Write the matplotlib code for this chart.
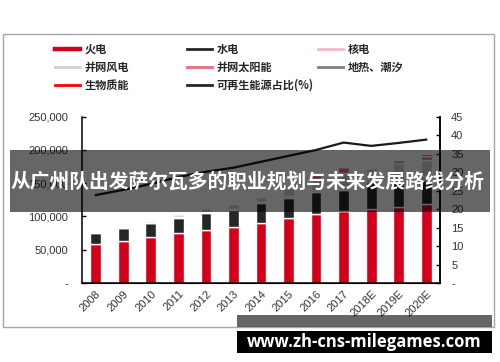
import matplotlib
matplotlib.use("Agg")
import matplotlib.pyplot as plt
from matplotlib.lines import Line2D
from matplotlib.patches import Rectangle
from matplotlib.font_manager import FontProperties
import numpy as np

years = ['2008', '2009', '2010', '2011', '2012', '2013', '2014', '2015', '2016', '2017', '2018E', '2019E', '2020E']
thermal = [58000, 63000, 68500, 74500, 79500, 83500, 89500, 97000, 103500, 108500, 111500, 115000, 119500]
hydro = [17400, 19000, 21000, 23000, 25500, 26000, 30500, 30500, 33500, 31000, 40000, 35000, 35000]
nuclear = [900, 900, 1100, 1250, 1250, 1450, 2000, 2700, 3350, 3600, 4500, 5000, 6000]
wind = [850, 1750, 2950, 4600, 6100, 7650, 7000, 13000, 14750, 22400, 17500, 25500, 24000]
solar = [0, 0, 50, 200, 350, 1600, 2500, 4200, 7600, 9000, 1000, 5000, 7000]
geothermal = [2.4, 2.4, 2.4, 2.4, 2.8, 2.8, 2.8, 2.7, 2.7, 2.7, 3, 3, 5]
biomass = [300, 400, 550, 700, 800, 850, 950, 1000, 1200, 1000, 500, 1000, 2000]
renew_share = [23.8, 25.2, 26.8, 28.7, 30.1, 31.2, 32.8, 34.4, 36.0, 38.0, 37.1, 37.9, 38.8]

series_names = ['火电', '水电', '核电', '并网风电', '并网太阳能', '地热、潮汐', '生物质能']
series_vals = [thermal, hydro, nuclear, wind, solar, geothermal, biomass]
series_colors = ['#d2001a', '#262626', '#f4b9c5', '#d2d2d2', '#e8707f', '#7f7f7f', '#ff0000']
line_name = '可再生能源占比(%)'

left_ticks = [0, 50000, 100000, 150000, 200000, 250000]
left_labels = ['-', '50,000', '100,000', '150,000', '200,000', '250,000']
right_ticks = [0, 5, 10, 15, 20, 25, 30, 35, 40, 45]
right_labels = ['-', '5', '10', '15', '20', '25', '30', '35', '40', '45']

W, H = 500, 362
fig = plt.figure(figsize=(W / 100, H / 100), dpi=100)
cjk = ['Noto Sans CJK SC', 'DejaVu Sans']
num_font = 'Liberation Sans'

def fx(px):
    return px / W

def fy(py):
    return 1 - py / H

ax = fig.add_axes([fx(82), fy(283), fx(440) - fx(82), fy(116.7) - fy(283)])
x = np.arange(len(years))
bottom = np.zeros(len(years))
for name, vals, col in zip(series_names, series_vals, series_colors):
    v = np.array(vals, dtype=float)
    ax.bar(x, v, 0.39, bottom=bottom, color=col, edgecolor='white', linewidth=1.0, zorder=2)
    bottom += v

ax.set_xlim(-0.5, len(years) - 0.5)
ax.set_ylim(0, 250000)
ax.set_yticks(left_ticks)
ax.set_yticklabels(left_labels, fontfamily=num_font, fontsize=8, color='#333333')
ax.tick_params(axis='y', direction='in', length=3, width=1, pad=10)
ax.set_xticks(x)
ax.set_xticklabels(years, rotation=45, ha='right', va='top', rotation_mode='anchor',
                   fontfamily=num_font, fontsize=8, color='#333333')
ax.tick_params(axis='x', length=0, pad=4)
for s in ['left', 'right', 'bottom']:
    ax.spines[s].set_color('black')
    ax.spines[s].set_linewidth(1.1)
ax.spines['top'].set_visible(False)

ax2 = ax.twinx()
ax2.plot(x, renew_share, color='#1a1a1a', lw=1.6, zorder=3)
ax2.set_ylim(0, 45)
ax2.set_yticks(right_ticks)
ax2.set_yticklabels(right_labels, fontfamily=num_font, fontsize=8, color='#333333')
ax2.tick_params(axis='y', direction='in', length=3, width=1, pad=8)
ax2.spines['top'].set_visible(False)
ax2.spines['right'].set_linewidth(1.1)
ax2.spines['left'].set_visible(False)

# legend (three columns)
prop = FontProperties(family=cjk, weight='bold', size=8)
handles = {}
for name, col in zip(series_names, series_colors):
    handles[name] = Line2D([], [], color=col, lw=3.2 if name == '火电' else 2.0)
handles[line_name] = Line2D([], [], color='#262626', lw=2.0)
cols = [(['火电', '并网风电', '生物质能'], 55),
        (['水电', '并网太阳能', line_name], 187),
        (['核电', '地热、潮汐'], 318)]
for names, px in cols:
    fig.legend([handles[n] for n in names], names, loc='upper left',
               bbox_to_anchor=(fx(px), fy(43)), frameon=False, prop=prop,
               handlelength=2.25, handletextpad=0.4, labelspacing=0.45,
               borderpad=0, borderaxespad=0, labelcolor='#262626')

# outer frame
fig.add_artist(Rectangle((fx(3), fy(327)), fx(494) - fx(3), fy(34) - fy(327),
                         transform=fig.transFigure, fill=False, edgecolor='#a6a6a6', lw=1, zorder=5))

# overlay banner
fig.add_artist(Rectangle((fx(10), fy(212)), fx(490) - fx(10), fy(150) - fy(212),
                         transform=fig.transFigure, color='black', alpha=0.6, lw=0, zorder=10))
fig.text(fx(248), fy(182), '从广州队出发萨尔瓦多的职业规划与未来发展路线分析', ha='center', va='center',
         color='white', fontsize=14.2, fontweight='bold', family=cjk, zorder=11)

# watermark
fig.add_artist(Rectangle((fx(237), fy(327)), fx(492) - fx(237), fy(315) - fy(327),
                         transform=fig.transFigure, color='black', alpha=0.6, lw=0, zorder=10))
fig.add_artist(Rectangle((fx(237), fy(353)), fx(492) - fx(237), fy(331) - fy(353),
                         transform=fig.transFigure, color='black', lw=0, zorder=10))
fig.text(fx(364), fy(342), 'www.zh-cns-milegames.com', ha='center', va='center',
         color='white', fontsize=12, fontweight='bold', family=['Open Sans', 'DejaVu Sans'], zorder=11)

fig.savefig('out.png', dpi=100)
